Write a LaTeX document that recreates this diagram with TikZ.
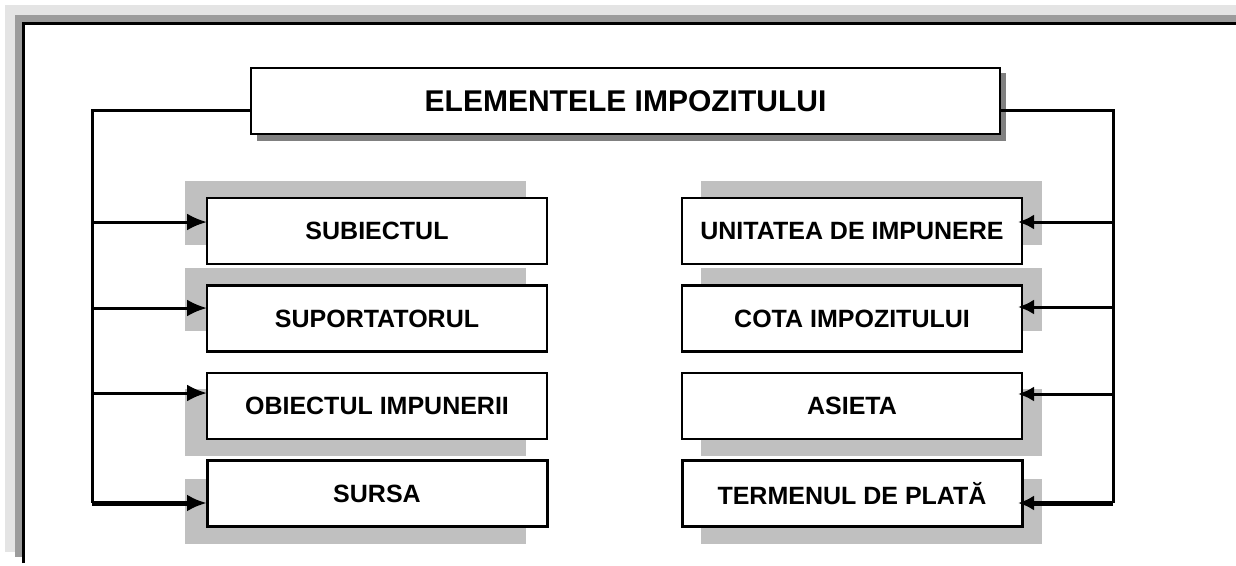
\documentclass[tikz,border=0pt]{standalone}
\usepackage{fontspec}
\setmainfont{Liberation Sans}
\usetikzlibrary{arrows.meta}
\definecolor{framelight}{HTML}{E4E4E4}
\definecolor{framedark}{HTML}{9C9C9C}
\definecolor{boxshadowgray}{HTML}{C0C0C0}
\definecolor{titleshadowgray}{HTML}{808080}
\tikzset{
  itembox/.style={draw=black, fill=white, line width=2.5pt, inner sep=0pt, outer sep=0pt,
    minimum width=340pt, minimum height=66pt, font=\bfseries\fontsize{25}{30}\selectfont},
  titlebox/.style={draw=black, fill=white, line width=2.5pt, inner sep=0pt, outer sep=0pt,
    minimum width=749pt, minimum height=66pt, font=\bfseries\fontsize{30}{36}\selectfont},
  boxshadow/.style={fill=boxshadowgray},
  bus/.style={line width=3pt},
  larrow/.style={line width=3pt, -{Latex[length=20pt,width=17pt]}},
  rarrow/.style={line width=3pt, -{Latex[length=16pt,width=15pt]}, shorten >=-4pt}
}
\begin{document}
\begin{tikzpicture}[x=1pt,y=-1pt]
\useasboundingbox (0,0) rectangle (1236,565);
% frame
\fill[framelight] (5,5) rectangle (1236,15);
\fill[framelight] (5,5) rectangle (15,552);
\fill[framedark] (15,15) rectangle (1236,22);
\fill[framedark] (15,15) rectangle (22,557);
\draw[line width=3pt] (23.5,563) -- (23.5,23.5) -- (1236,23.5);
% shadows
\fill[titleshadowgray] (257,73) rectangle (1006,141);
\path[boxshadow] (185,181) rectangle (526,245);
\path[boxshadow] (185,268) rectangle (526,331);
\path[boxshadow] (185,389) rectangle (526,456);
\path[boxshadow] (185,479) rectangle (526,544);
\path[boxshadow] (701,181) rectangle (1042,245);
\path[boxshadow] (701,268) rectangle (1042,331);
\path[boxshadow] (701,389) rectangle (1042,456);
\path[boxshadow] (701,479) rectangle (1042,544);
% title
\node[titlebox] (t) at (625.5,101) {ELEMENTELE IMPOZITULUI};
% left boxes
\node[itembox] (l1) at (377,231) {SUBIECTUL};
\node[itembox] (l2) at (377,318.5) {SUPORTATORUL};
\node[itembox] (l3) at (377,406) {OBIECTUL IMPUNERII};
\node[itembox, line width=3pt] (l4) at (377,493.5) {SURSA};
% right boxes
\node[itembox] (r1) at (852,231) {UNITATEA DE IMPUNERE};
\node[itembox] (r2) at (852,318.5) {COTA IMPOZITULUI};
\node[itembox] (r3) at (852,406) {ASIETA};
\node[itembox, line width=3pt] (r4) at (852,493.5) {TERMENUL DE PLATĂ};
% bus coordinates
\coordinate (lt) at (92,110);
\coordinate (la1) at (92,222);
\coordinate (la2) at (92,308);
\coordinate (la3) at (92,393);
\coordinate (la4) at (92,503);
\coordinate (rt) at (1113,110);
\coordinate (ra1) at (1113,222);
\coordinate (ra2) at (1113,307);
\coordinate (ra3) at (1113,394);
\coordinate (ra4) at (1113,503);
% connectors
\draw[bus] (t.west |- lt) -- (lt) -- (la4);
\draw[bus] (t.east |- rt) -- (rt) -- (ra4);
\draw[larrow] (la1) -- (l1.west |- la1);
\draw[larrow] (la2) -- (l2.west |- la2);
\draw[larrow] (la3) -- (l3.west |- la3);
\draw[larrow, line width=5pt] (la4) -- (l4.west |- la4);
\draw[rarrow] (ra1) -- (r1.east |- ra1);
\draw[rarrow] (ra2) -- (r2.east |- ra2);
\draw[rarrow] (ra3) -- (r3.east |- ra3);
\draw[rarrow, line width=5pt] (ra4) -- (r4.east |- ra4);
\end{tikzpicture}
\end{document}
